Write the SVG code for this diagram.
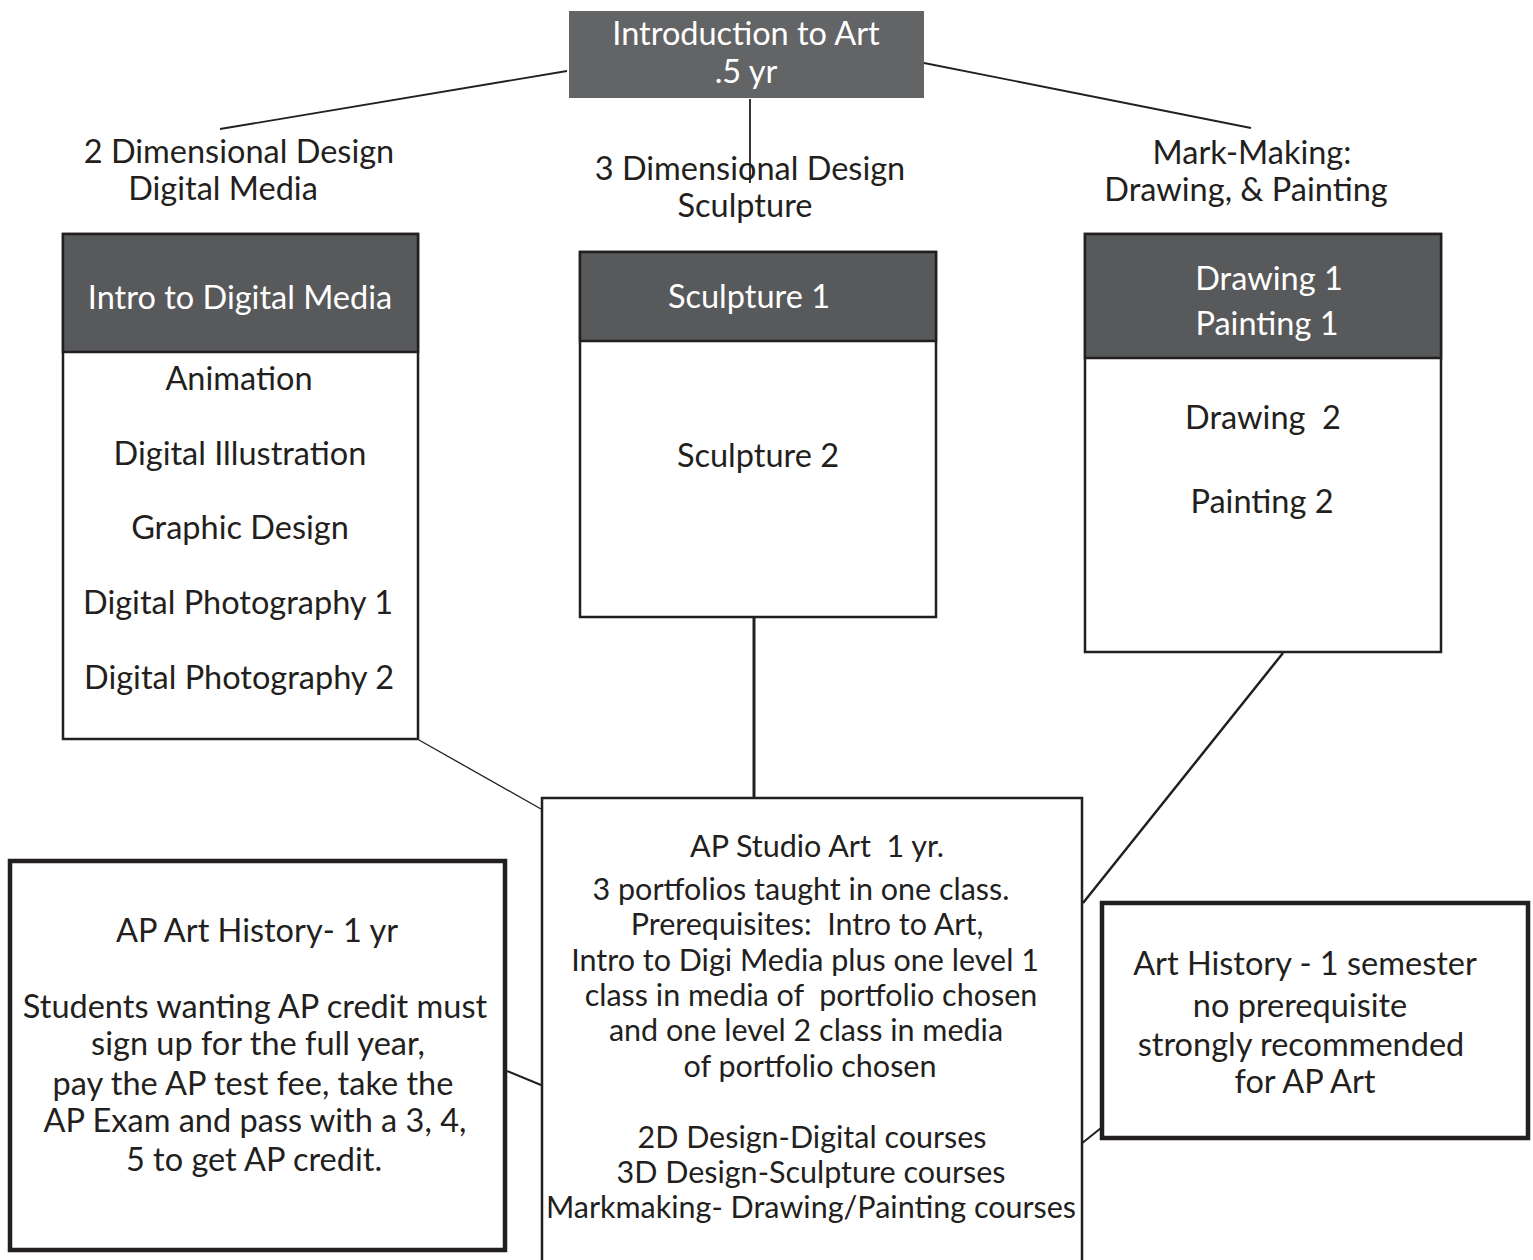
<svg xmlns="http://www.w3.org/2000/svg" width="1533" height="1260" viewBox="0 0 1533 1260">
<style>
text{font-family:Lato,"Open Sans","Liberation Sans",sans-serif;font-size:32.5px;fill:#231f20;text-anchor:middle}
.w{fill:#ffffff}
.s{font-size:30.5px}
.box{fill:#ffffff;stroke:#231f20;stroke-width:2.5}
.thick{fill:#ffffff;stroke:#231f20;stroke-width:4.5}
.hdr{fill:#58595b;stroke:#231f20;stroke-width:2.5}
.ln{stroke:#231f20;fill:none}
</style>
<rect width="1533" height="1260" fill="#ffffff"/>
<g id="connectors">
<line class="ln" x1="567" y1="71" x2="220" y2="129" stroke-width="1.8"/>
<line class="ln" x1="750" y1="99" x2="750" y2="183" stroke-width="1.8"/>
<line class="ln" x1="924" y1="63" x2="1251" y2="128" stroke-width="1.8"/>
<line class="ln" x1="419" y1="740" x2="541" y2="809" stroke-width="1.3"/>
<line class="ln" x1="754" y1="617" x2="754" y2="798" stroke-width="3"/>
<line class="ln" x1="1283" y1="653" x2="1083" y2="903" stroke-width="2.5"/>
<line class="ln" x1="507" y1="1071" x2="541" y2="1085" stroke-width="2"/>
<line class="ln" x1="1076" y1="1148" x2="1101" y2="1128" stroke-width="2"/>
</g>
<g id="intro-art">
<rect x="569" y="11" width="355" height="87" fill="#636466"/>
<text class="w" x="746" y="45">Introduction to Art</text>
<text class="w" x="746" y="83">.5 yr</text>
</g>
<g id="label-2d">
<text x="239" y="163">2 Dimensional Design</text>
<text x="223" y="200">Digital Media</text>
</g>
<g id="label-3d">
<text x="750" y="180">3 Dimensional Design</text>
<text x="745" y="217">Sculpture</text>
</g>
<g id="label-mark">
<text x="1252" y="164">Mark-Making:</text>
<text x="1246" y="201">Drawing, &amp; Painting</text>
</g>
<g id="digital-media">
<rect class="box" x="63" y="234" width="355" height="505"/>
<rect class="hdr" x="63" y="234" width="355" height="118"/>
<text class="w" x="240" y="309">Intro to Digital Media</text>
<text x="239" y="390">Animation</text>
<text x="240" y="465">Digital Illustration</text>
<text x="240" y="539">Graphic Design</text>
<text x="238" y="614">Digital Photography 1</text>
<text x="239" y="689">Digital Photography 2</text>
</g>
<g id="sculpture">
<rect class="box" x="580" y="252" width="356" height="365"/>
<rect class="hdr" x="580" y="252" width="356" height="89"/>
<text class="w" x="749" y="308">Sculpture 1</text>
<text x="758" y="467">Sculpture 2</text>
</g>
<g id="drawing">
<rect class="box" x="1085" y="234" width="356" height="418"/>
<rect class="hdr" x="1085" y="234" width="356" height="124"/>
<text class="w" x="1269" y="290">Drawing 1</text>
<text class="w" x="1267" y="335">Painting 1</text>
<text x="1263" y="429" xml:space="preserve">Drawing  2</text>
<text x="1262" y="513">Painting 2</text>
</g>
<g id="ap-studio">
<rect class="box" x="542" y="798" width="540" height="480"/>
<text class="s" x="817" y="857" xml:space="preserve">AP Studio Art  1 yr.</text>
<text class="s" x="801" y="900">3 portfolios taught in one class.</text>
<text class="s" x="807" y="935" xml:space="preserve">Prerequisites:  Intro to Art,</text>
<text class="s" x="805" y="971">Intro to Digi Media plus one level 1</text>
<text class="s" x="811" y="1006" xml:space="preserve">class in media of  portfolio chosen</text>
<text class="s" x="806" y="1041">and one level 2 class in media</text>
<text class="s" x="810" y="1077">of portfolio chosen</text>
<text class="s" x="812" y="1148">2D Design-Digital courses</text>
<text class="s" x="811" y="1183">3D Design-Sculpture courses</text>
<text class="s" x="811" y="1218">Markmaking- Drawing/Painting courses</text>
</g>
<g id="ap-art-history">
<rect class="thick" x="10" y="861" width="495" height="389"/>
<text x="257" y="942">AP Art History- 1 yr</text>
<text x="255" y="1018">Students wanting AP credit must</text>
<text x="258" y="1055">sign up for the full year,</text>
<text x="253" y="1095">pay the AP test fee, take the</text>
<text x="255" y="1132">AP Exam and pass with a 3, 4,</text>
<text x="254" y="1171">5 to get AP credit.</text>
</g>
<g id="art-history">
<rect class="thick" x="1102" y="903" width="426" height="235"/>
<text x="1305" y="975">Art History - 1 semester</text>
<text x="1300" y="1017">no prerequisite</text>
<text x="1301" y="1056">strongly recommended</text>
<text x="1305" y="1093">for AP Art</text>
</g>
</svg>
